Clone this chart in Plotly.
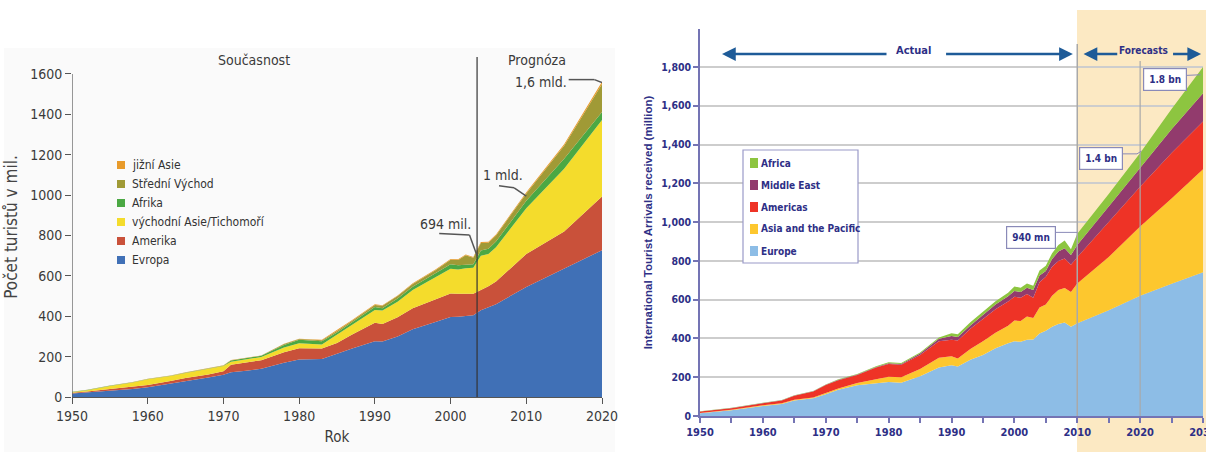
import plotly.graph_objects as go

W, H = 1206, 452

# ---------------- data: left chart ----------------
left_years = [1950, 1952, 1955, 1958, 1960, 1963, 1965, 1968, 1970, 1971, 1973, 1975, 1978, 1980, 1983, 1985,
              1987, 1990, 1991, 1993, 1995, 1998, 2000, 2001, 2002, 2003, 2004, 2005, 2006, 2010, 2015, 2020]
evropa = [17, 22, 31, 40, 48, 65, 78, 96, 110, 122, 130, 140, 170, 186, 188, 215,
          240, 276, 275, 300, 335, 372, 396, 398, 402, 405, 430, 445, 460, 545, 635, 727]
amerika = [4, 5, 9, 10, 12, 14, 16, 16, 18, 38, 40, 42, 52, 56, 52, 53,
           70, 92, 87, 95, 105, 113, 117, 114, 111, 107, 100, 103, 112, 163, 185, 266]
vychodni_asie = [3, 7, 15, 22, 28, 25, 25, 26, 26, 15, 16, 16, 23, 24, 20, 40,
                 45, 63, 66, 77, 90, 110, 122, 120, 125, 128, 170, 160, 170, 227, 310, 379]
afrika = [1, 1, 1, 1, 1, 1, 1, 1, 1, 6, 5, 6, 13, 17, 16, 12,
          15, 15, 12, 16, 16, 17, 23, 20, 17, 18, 25, 26, 28, 37, 50, 40]
stredni_vychod = [0.5, 0.5, 0.5, 0.5, 0.5, 0.5, 1, 1, 1, 1, 1, 1, 4, 4, 5, 7,
                  8, 10, 12, 12, 14, 16, 22, 26, 47, 32, 38, 30, 30, 36, 65, 138]
jizni_asie = [0.5, 0.5, 0.5, 0.5, 0.5, 0.5, 1, 1, 1, 1, 1, 1, 2, 2, 2, 3,
              3, 3, 3, 3, 3, 3, 4, 4, 4, 4, 5, 5, 5, 6, 7, 11]
left_names = ["Evropa", "Amerika", "východní Asie/Tichomoří", "Afrika", "Střední Východ", "jižní Asie"]
left_colors = ["#4070B6", "#C9513A", "#F4DC2C", "#4BA843", "#A09A36", "#E89B2B"]
left_ticks_y = [0, 200, 400, 600, 800, 1000, 1200, 1400, 1600]
left_ticks_x = [1950, 1960, 1970, 1980, 1990, 2000, 2010, 2020]

# ---------------- data: right chart ----------------
right_years = [1950, 1955, 1960, 1963, 1965, 1968, 1970, 1972, 1975, 1978, 1980, 1982, 1985, 1988, 1990, 1991,
               1993, 1995, 1997, 1999, 2000, 2001, 2002, 2003, 2004, 2005, 2006, 2007, 2008, 2009, 2010,
               2015, 2020, 2025, 2030]
europe = [14, 30, 52, 62, 80, 92, 112, 135, 158, 170, 175, 172, 205, 250, 262, 255,
          290, 315, 350, 375, 385, 383, 393, 395, 425, 440, 460, 475, 482, 460, 478,
          545, 620, 682, 741]
asia_pacific = [1, 2, 4, 4, 4, 4, 6, 7, 12, 20, 27, 28, 38, 50, 46, 42,
                55, 70, 80, 90, 107, 107, 120, 110, 135, 135, 160, 175, 178, 180, 206,
                275, 357, 440, 531]
americas = [8, 8, 10, 14, 21, 31, 42, 43, 42, 60, 66, 64, 72, 85, 85, 92,
            105, 115, 120, 125, 123, 120, 116, 105, 130, 143, 150, 150, 152, 140, 135,
            180, 205, 235, 247]
middle_east = [0.5, 1, 1, 1, 1, 1, 1, 2, 2, 3, 4, 4, 7, 13, 20, 18,
               17, 22, 25, 28, 30, 30, 33, 40, 35, 30, 40, 48, 53, 50, 63,
               80, 95, 122, 145]
africa = [0.5, 1, 1, 1, 1, 1, 2, 2, 3, 3, 5, 5, 5, 7, 14, 15,
          16, 16, 17, 18, 23, 22, 22, 22, 25, 27, 30, 34, 40, 30, 58,
          65, 80, 104, 136]
right_names = ["Europe", "Asia and the Pacific", "Americas", "Middle East", "Africa"]
right_colors = ["#8DBDE6", "#FDC72E", "#EE3326", "#923B6D", "#8DC540"]
right_ticks_y = [0, 200, 400, 600, 800, 1000, 1200, 1400, 1600, 1800]
right_ticks_x = [1950, 1960, 1970, 1980, 1990, 2000, 2010, 2020, 2030]

FONT_L = "DejaVu Sans Condensed, Noto Sans, sans-serif"
FONT_R = "DejaVu Sans Condensed, Noto Sans, sans-serif"
ARIAL = "Liberation Sans, Arial, sans-serif"
NAVY = "#2E2F86"
PURPLE_AXIS = "#7474B4"
DARK = "#3A3A3A"


def px(x):
    return x / W


def py(y):
    return 1 - y / H


fig = go.Figure()

for name, vals, col in zip(left_names, [evropa, amerika, vychodni_asie, afrika, stredni_vychod, jizni_asie], left_colors):
    fig.add_trace(go.Scatter(x=left_years, y=vals, name=name, stackgroup="left", mode="lines",
                             line=dict(width=0, color=col), fillcolor=col, xaxis="x", yaxis="y",
                             showlegend=False, hoverinfo="x+y+name"))

for name, vals, col in zip(right_names, [europe, asia_pacific, americas, middle_east, africa], right_colors):
    fig.add_trace(go.Scatter(x=right_years, y=vals, name=name, stackgroup="right", mode="lines",
                             line=dict(width=0, color=col), fillcolor=col, xaxis="x2", yaxis="y2",
                             showlegend=False, hoverinfo="x+y+name"))

shapes = []
annotations = []

# backgrounds
shapes.append(dict(type="rect", xref="paper", yref="paper", x0=px(4), x1=px(615), y0=0, y1=py(48),
                   fillcolor="#FAFAFA", line=dict(width=0), layer="below"))
shapes.append(dict(type="rect", xref="paper", yref="paper", x0=px(1077), x1=1, y0=0, y1=py(10),
                   fillcolor="#FCE9C3", line=dict(width=0), layer="below"))

# left: y axis line and forecast divider
shapes.append(dict(type="line", xref="x", yref="y", x0=1950, x1=1950, y0=0, y1=1600,
                   line=dict(color="#555555", width=1.2)))
shapes.append(dict(type="line", xref="x", yref="y", x0=2003.5, x1=2003.5, y0=0, y1=1684,
                   line=dict(color="#333333", width=1.2)))

# left connectors
for pts in ([(2015.6, 1572), (2019.0, 1572), (2020, 1558)],
            [(2006.4, 1046), (2008.4, 1036), (2010.0, 995)],
            [(1998.5, 810), (2002.5, 802), (2003.5, 700)]):
    for (xa, ya), (xb, yb) in zip(pts[:-1], pts[1:]):
        shapes.append(dict(type="line", xref="x", yref="y", x0=xa, y0=ya, x1=xb, y1=yb,
                           line=dict(color="#555555", width=1.5)))

# right: 2010 and 2020 lines
shapes.append(dict(type="line", xref="x2", yref="y2", x0=2010, x1=2010, y0=0, y1=1919,
                   line=dict(color="#A9A9A9", width=1.5)))
shapes.append(dict(type="line", xref="x2", yref="y2", x0=2020, x1=2020, y0=0, y1=1831,
                   line=dict(color="#A9A9A9", width=1.2)))

# right callout connectors
for (xa, ya), (xb, yb) in (((2005.8, 947), (2010, 947)),
                           ((2017.0, 1352), (2019.5, 1352)),
                           ((2019.5, 1352), (2020.2, 1366)),
                           ((2026.9, 1756), (2029.6, 1760))):
    shapes.append(dict(type="line", xref="x2", yref="y2", x0=xa, y0=ya, x1=xb, y1=yb,
                       line=dict(color="#8A8AB8", width=1)))

# ---- left annotations ----
lt = dict(family=FONT_L, size=14, color=DARK)
annotations += [
    dict(x=1974.1, y=1669, xref="x", yref="y", text="Současnost", showarrow=False, font=lt),
    dict(x=2011.4, y=1669, xref="x", yref="y", text="Prognóza", showarrow=False, font=lt),
    dict(x=2011.9, y=1558, xref="x", yref="y", text="1,6 mld.", showarrow=False, font=lt),
    dict(x=2006.9, y=1100, xref="x", yref="y", text="1 mld.", showarrow=False, font=lt),
    dict(x=1999.3, y=857, xref="x", yref="y", text="694 mil.", showarrow=False, font=lt),
]

# left manual legend (top to bottom)
leg_rows_y = [165, 184, 203, 222, 241, 260]
for i, (name, col) in enumerate(zip(left_names[::-1], left_colors[::-1])):
    yc = leg_rows_y[i]
    shapes.append(dict(type="rect", xref="paper", yref="paper", x0=px(117), x1=px(125),
                       y0=py(yc + 4), y1=py(yc - 4), fillcolor=col, line=dict(width=0)))
    annotations.append(dict(x=px(130), y=py(yc), xref="paper", yref="paper", text=name,
                            showarrow=False, xanchor="left", yanchor="middle",
                            font=dict(family=FONT_L, size=12, color="#333333")))

# ---- right annotations ----
rt = dict(family=FONT_R, size=10, color=NAVY, weight="bold")
annotations += [
    dict(x=1984, y=1886, xref="x2", yref="y2", text="Actual", showarrow=False,
         font=dict(family=FONT_R, size=11, color=NAVY, weight="bold")),
    dict(x=2020.6, y=1886, xref="x2", yref="y2", text="Forecasts", showarrow=False, font=rt),
]
arrow_color = "#1E5B98"
for head, tail in ((1953.5, 1979.9), (2009.3, 1988.9), (2011.0, 2016.6), (2029.7, 2025.0)):
    annotations.append(dict(x=head, y=1867, ax=tail, ay=1867, xref="x2", yref="y2",
                            axref="x2", ayref="y2", text="", showarrow=True, arrowhead=2,
                            arrowsize=1.1, arrowwidth=2.5, arrowcolor=arrow_color))

box = dict(showarrow=False, font=rt, bgcolor="white", bordercolor="#8A8AB8", borderwidth=1.2, borderpad=5,
           xref="x2", yref="y2")
annotations += [
    dict(x=2002.6, y=920, text="940 mn", **box),
    dict(x=2013.7, y=1330, text="1.4 bn", **box),
    dict(x=2024.0, y=1733, text="1.8 bn", **box),
]

# right manual legend
shapes.append(dict(type="rect", xref="paper", yref="paper", x0=px(743), x1=px(858), y0=py(263), y1=py(150),
                   fillcolor="white", line=dict(color="#9A9AC8", width=1.2)))
r_rows_y = [163, 185, 207, 229, 251]
for i, (name, col) in enumerate(zip(right_names[::-1], right_colors[::-1])):
    yc = r_rows_y[i]
    shapes.append(dict(type="rect", xref="paper", yref="paper", x0=px(750), x1=px(758),
                       y0=py(yc + 5), y1=py(yc - 5), fillcolor=col, line=dict(width=0)))
    annotations.append(dict(x=px(759), y=py(yc), xref="paper", yref="paper", text=name,
                            showarrow=False, xanchor="left", yanchor="middle", font=rt))

fig.update_layout(
    width=W, height=H,
    margin=dict(l=0, r=0, t=0, b=0),
    paper_bgcolor="white",
    plot_bgcolor="rgba(0,0,0,0)",
    showlegend=False,
    shapes=shapes,
    annotations=annotations,
    xaxis=dict(domain=[px(72), px(602)], range=[1950, 2020], tickvals=left_ticks_x, anchor="y",
               automargin=False, ticklabeloverflow="allow",
               ticks="outside", ticklen=6, tickcolor="#555555", showline=True, linecolor="#555555",
               linewidth=1.2, showgrid=False, zeroline=False,
               tickfont=dict(family=FONT_L, size=14, color=DARK),
               title=dict(text="Rok", font=dict(family=FONT_L, size=15, color=DARK), standoff=8)),
    yaxis=dict(domain=[py(397), py(57)], range=[0, 1684], tickvals=left_ticks_y, anchor="x",
               automargin=False,
               ticks="outside", ticklen=6, tickcolor="#555555", showline=False, showgrid=False,
               zeroline=False, tickfont=dict(family=FONT_L, size=14, color=DARK),
               title=dict(text="Počet turistů v mil.", font=dict(family=FONT_L, size=17, color="#444444"),
                          standoff=8)),
    xaxis2=dict(domain=[px(700), px(1203)], range=[1950, 2030], tickvals=right_ticks_x, anchor="y2",
                automargin=False, ticklabeloverflow="allow",
                ticks="outside", ticklen=5, tickcolor=PURPLE_AXIS, tickwidth=1.5,
                minor=dict(dtick=5, tick0=1950, ticks="outside", ticklen=5, tickcolor=PURPLE_AXIS,
                           showgrid=False),
                showline=True, linecolor=PURPLE_AXIS, linewidth=1.5, showgrid=False, zeroline=False,
                tickfont=dict(family=FONT_R, size=11, color=NAVY, weight="bold")),
    yaxis2=dict(domain=[py(416), py(29)], range=[0, 1996], tickvals=right_ticks_y, tickformat=",",
                anchor="x2", automargin=False,
                ticks="outside", ticklen=5, tickcolor=PURPLE_AXIS, tickwidth=1.5,
                showline=True, linecolor=PURPLE_AXIS, linewidth=1.5,
                showgrid=True, gridcolor="#CDCDCD", gridwidth=1.5, zeroline=False,
                tickfont=dict(family=FONT_R, size=10.5, color=NAVY, weight="bold"),
                title=dict(text="International Tourist Arrivals received (million)",
                           font=dict(family=ARIAL, size=11.5, color=NAVY, weight="bold"), standoff=6)),
)

fig.write_html("out.html", config={"displayModeBar": False},
               post_script="document.body.style.margin='0';document.body.style.overflow='hidden';")
